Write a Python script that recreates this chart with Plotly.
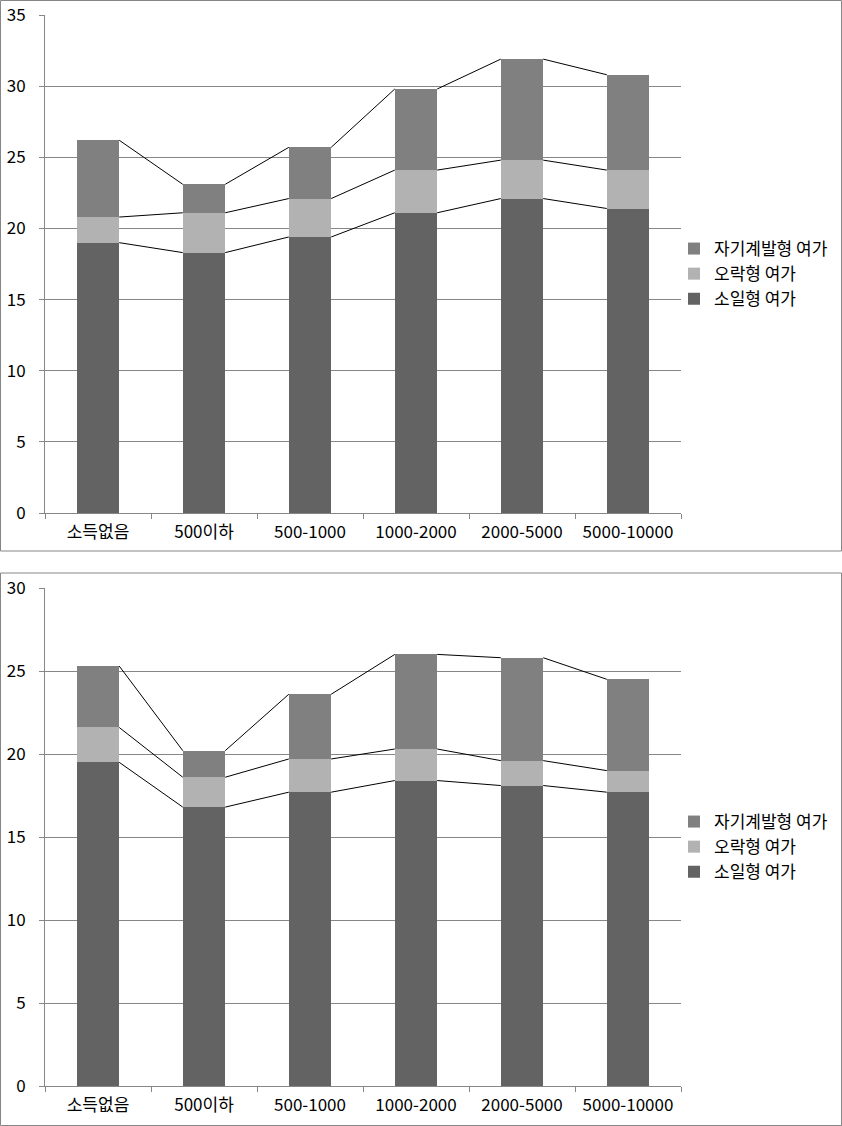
import plotly.graph_objects as go

categories = ["소득없음", "500이하", "500-1000", "1000-2000", "2000-5000", "5000-10000"]
series_names = ["소일형 여가", "오락형 여가", "자기계발형 여가"]

# chart 1 (top)
top_soil = [19.0, 18.3, 19.4, 21.1, 22.1, 21.4]
top_orak = [1.8, 2.8, 2.7, 3.0, 2.7, 2.7]
top_jagi = [5.4, 2.0, 3.6, 5.7, 7.1, 6.7]

# chart 2 (bottom)
bot_soil = [19.5, 16.8, 17.7, 18.4, 18.1, 17.7]
bot_orak = [2.1, 1.8, 2.0, 1.9, 1.5, 1.3]
bot_jagi = [3.7, 1.6, 3.9, 5.7, 6.2, 5.5]

colors = ["#636363", "#b2b2b2", "#808080"]
BAR_W = 0.4
FONT = "Noto Sans CJK KR"

fig = go.Figure()

def add_chart(series, xa, ya, legend):
    x = list(range(len(categories)))
    for name, vals, col in zip(series_names, series, colors):
        fig.add_trace(go.Bar(x=x, y=vals, name=name, marker=dict(color=col, line=dict(width=0)),
                             width=BAR_W, xaxis=xa, yaxis=ya, legend=legend))
    cum = [0.0] * len(categories)
    for vals in series:
        cum = [c + v for c, v in zip(cum, vals)]
        lx, ly = [], []
        for i in range(len(categories) - 1):
            lx += [i + BAR_W / 2, i + 1 - BAR_W / 2, None]
            ly += [cum[i], cum[i + 1], None]
        fig.add_trace(go.Scatter(x=lx, y=ly, mode="lines", line=dict(color="black", width=1),
                                 showlegend=False, hoverinfo="skip", xaxis=xa, yaxis=ya))

add_chart([top_soil, top_orak, top_jagi], "x", "y", "legend")
add_chart([bot_soil, bot_orak, bot_jagi], "x2", "y2", "legend2")

W, H = 842, 1126
xdom = [45 / W, 681 / W]
top_dom = [1 - 513 / H, 1 - 15 / H]
bot_dom = [1 - 1086 / H, 1 - 588 / H]

def xaxis(anchor, dom=xdom):
    return dict(domain=dom, anchor=anchor, range=[-0.5, 5.5], tickmode="array",
                tickvals=list(range(6)), ticktext=categories, ticks="", showgrid=False,
                showline=True, linecolor="#868686", linewidth=1, zeroline=False,
                automargin=False, ticklabelstandoff=4,
                tickfont=dict(family=FONT, size=17, color="black"),
                minor=dict(tickvals=[i - 0.5 for i in range(7)], ticks="outside", ticklen=5,
                           tickcolor="#868686", showgrid=False))

def yaxis(anchor, dom, rng):
    return dict(domain=dom, anchor=anchor, range=[0, rng], dtick=5, tick0=0, showgrid=True,
                gridcolor="#868686", gridwidth=1, showline=True, linecolor="#868686",
                ticks="outside", ticklen=5, tickcolor="#868686", zeroline=False,
                automargin=False, ticklabelstandoff=10,
                tickfont=dict(family=FONT, size=17, color="black"))

legend_style = dict(xanchor="left", yanchor="middle", traceorder="reversed",
                    font=dict(family=FONT, size=17, color="black"), bgcolor="rgba(0,0,0,0)",
                    itemwidth=30, tracegroupgap=0)

fig.update_layout(
    width=W, height=H, margin=dict(l=0, r=0, t=0, b=0, autoexpand=False),
    paper_bgcolor="white", plot_bgcolor="white", barmode="stack",
    xaxis=xaxis("y"), yaxis=yaxis("x", top_dom, 35),
    xaxis2=xaxis("y2"), yaxis2=yaxis("x2", bot_dom, 30),
    legend=dict(x=674 / W, y=1 - 274 / H, **legend_style),
    legend2=dict(x=674 / W, y=1 - 847 / H, **legend_style),
    shapes=[
        dict(type="rect", xref="paper", yref="paper", x0=0.5 / W, x1=1 - 0.5 / W,
             y0=1 - 551 / H, y1=1 - 0.5 / H, line=dict(color="#868686", width=1)),
        dict(type="rect", xref="paper", yref="paper", x0=0.5 / W, x1=1 - 0.5 / W,
             y0=0.5 / H, y1=1 - 573 / H, line=dict(color="#868686", width=1)),
    ],
    showlegend=True,
)

fig.write_html("out.html", config={"displayModeBar": False},
               post_script="document.body.style.margin='0';")
